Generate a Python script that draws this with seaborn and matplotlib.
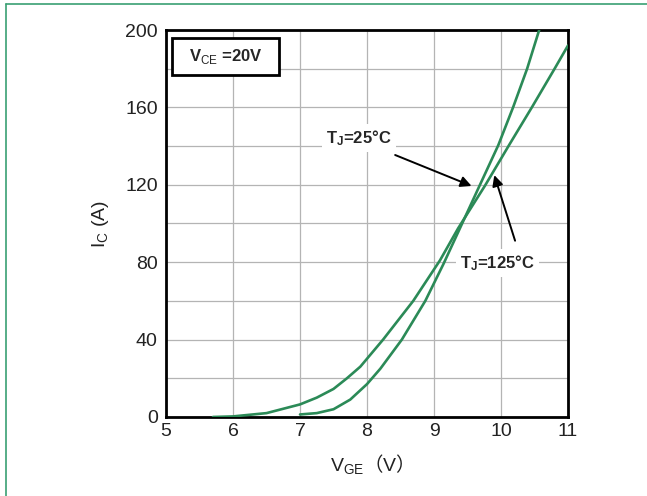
import matplotlib
matplotlib.use("Agg")
import matplotlib.pyplot as plt
from matplotlib.patches import Rectangle
from matplotlib.lines import Line2D
import seaborn as sns
import pandas as pd

# Transfer characteristic I_C vs V_GE at V_CE = 20 V
vge_125 = [5.7, 6.0, 6.5, 7.0, 7.25, 7.5, 7.7, 7.9, 8.24, 8.69, 9.09, 9.36, 9.76, 10.12, 10.46, 10.8, 11.0]
ic_125 = [0.0, 0.3, 2.0, 6.5, 10.0, 14.5, 20.0, 26.0, 40.0, 60.0, 81.0, 97.5, 119.5, 140.5, 160.0, 180.0, 192.0]

vge_25 = [7.0, 7.25, 7.5, 7.75, 8.0, 8.2, 8.52, 8.87, 9.14, 9.36, 9.65, 9.96, 10.18, 10.39, 10.57]
ic_25 = [1.3, 2.0, 4.0, 9.0, 17.0, 25.0, 40.0, 60.0, 79.0, 95.5, 117.3, 140.5, 160.0, 180.0, 200.0]

x_ticks = [5, 6, 7, 8, 9, 10, 11]
y_ticks = [0, 40, 80, 120, 160, 200]
y_grid = [20, 60, 100, 140, 180]

label_25 = "$\\mathbf{T_J}$=25°C"
label_125 = "$\\mathbf{T_J}$=125°C"
label_vce = "$\\mathbf{V}_{\\mathsf{CE}}$ =20V"

sns.set_theme(style="white")
plt.rcParams["font.family"] = ["Liberation Sans", "Noto Sans CJK SC", "DejaVu Sans"]
plt.rcParams["mathtext.fontset"] = "custom"
plt.rcParams["mathtext.rm"] = "Noto Sans CJK SC"
plt.rcParams["mathtext.sf"] = "Liberation Sans"
plt.rcParams["mathtext.bf"] = "Liberation Sans:bold"

curve_color = "#2b8a57"
frame_green = "#3a9f73"

fig = plt.figure(figsize=(6.47, 4.96), dpi=100)
ax = fig.add_axes([0.2566, 0.1593, 0.6213, 0.7802])

df = pd.concat([
    pd.DataFrame({"VGE": vge_125, "IC": ic_125, "TJ": "125"}),
    pd.DataFrame({"VGE": vge_25, "IC": ic_25, "TJ": "25"}),
])
sns.lineplot(data=df, x="VGE", y="IC", units="TJ", estimator=None, sort=False,
             color=curve_color, lw=1.9, ax=ax, zorder=3)

ax.set_xlim(5, 11)
ax.set_ylim(0, 200)
ax.set_xticks(x_ticks)
ax.set_yticks(y_ticks)
ax.set_yticks(y_grid, minor=True)
ax.set_xticklabels([str(v) for v in x_ticks], fontsize=14, color="#222222")
ax.set_yticklabels([str(v) for v in y_ticks], fontsize=14, color="#222222")
ax.tick_params(axis="both", which="both", length=0)
ax.tick_params(axis="y", pad=6)
ax.tick_params(axis="x", pad=4)
ax.grid(True, which="both", color="#b4b4b4", lw=0.9)
ax.set_axisbelow(True)
for s in ax.spines.values():
    s.set_linewidth(2.0)
    s.set_color("black")

ax.set_xlabel("$\\mathregular{V_{GE}}\\mathrm{（}\\mathregular{V}\\mathrm{）}$",
              fontsize=14, color="#222222", labelpad=9)
ax.set_ylabel("$\\mathregular{I_C}$ (A)", fontsize=14, color="#222222", labelpad=10)

# condition box
ax.add_patch(Rectangle((5.09, 176.7), 1.6, 19.2, fill=True, facecolor="white",
                       edgecolor="black", lw=2.0, zorder=4))
ax.text(5.89, 186.3, label_vce, fontsize=12, fontweight="bold", ha="center",
        va="center", zorder=5)

# curve labels with arrows
bbox = dict(boxstyle="square,pad=0.25", fc="white", ec="none")
ax.text(7.88, 144.2, label_25, fontsize=12, fontweight="bold", ha="center",
        va="center", bbox=bbox, zorder=5)
ax.text(9.95, 79.4, label_125, fontsize=12, fontweight="bold", ha="center",
        va="center", bbox=bbox, zorder=5)
arrow = dict(arrowstyle="-|>", mutation_scale=16, lw=1.4, color="black",
             shrinkA=0, shrinkB=0)
ax.annotate("", xy=(9.56, 119.4), xytext=(8.42, 135.4), arrowprops=arrow, zorder=6)
ax.annotate("", xy=(9.90, 125.0), xytext=(10.21, 91.1), arrowprops=arrow, zorder=6)

# outer frame lines
fig.add_artist(Line2D([6 / 647, 6 / 647], [0, 1 - 4 / 496], color=frame_green, lw=1.2))
fig.add_artist(Line2D([6 / 647, 1], [1 - 4 / 496, 1 - 4 / 496], color=frame_green, lw=1.2))

fig.savefig("out.png", dpi=100)
